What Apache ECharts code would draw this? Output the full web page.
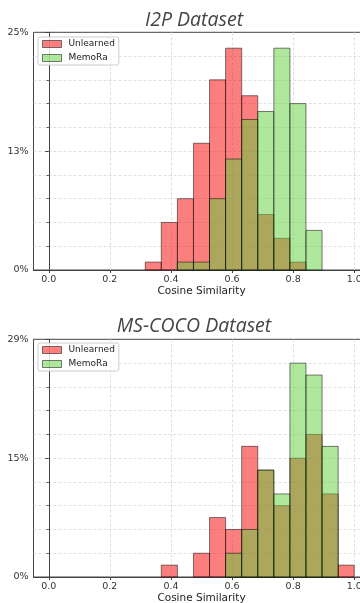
<!DOCTYPE html>
<html>
<head>
<meta charset="utf-8">
<script src="https://cdn.jsdelivr.net/npm/echarts@6/dist/echarts.min.js"></script>
<style>
html,body{margin:0;padding:0;background:#fff;}
#chart{width:360px;height:603px;}
</style>
</head>
<body>
<div id="chart"></div>
<script>
// Histogram bin edges (19 bins on [0, 1])
const binEdges = [0, 0.0526, 0.1053, 0.1579, 0.2105, 0.2632, 0.3158, 0.3684, 0.4211, 0.4737,
  0.5263, 0.5789, 0.6316, 0.6842, 0.7368, 0.7895, 0.8421, 0.8947, 0.9474, 1.0];
const xTicks = [0, 0.2, 0.4, 0.6, 0.8, 1.0];
const seriesNames = ['Unlearned', 'MemoRa'];
const chartTitles = ['I2P Dataset', 'MS-COCO Dataset'];
const yMax = [25, 29];

// Percent of samples per bin
const i2pUnlearned = [0, 0, 0, 0, 0, 0, 0.83, 5.0, 7.5, 13.33, 20.0, 23.33, 18.33, 5.83, 3.33, 0.83, 0, 0, 0];
const i2pMemoRa    = [0, 0, 0, 0, 0, 0, 0, 0, 0.83, 0.83, 7.5, 11.67, 15.83, 16.67, 23.33, 17.5, 4.17, 0, 0];
const cocoUnlearned = [0, 0, 0, 0, 0, 0, 0, 1.45, 0, 2.9, 7.25, 5.8, 15.94, 13.04, 8.7, 14.49, 17.39, 10.14, 1.45];
const cocoMemoRa    = [0, 0, 0, 0, 0, 0, 0, 0, 0, 0, 0, 2.9, 5.8, 13.04, 10.14, 26.09, 24.64, 15.94, 0];

const RED = 'rgba(250,0,0,0.5)';
const GREEN = 'rgba(95,208,60,0.5)';
const EDGE = 'rgba(0,0,0,0.5)';

function toData(vals) {
  return vals.map((v, i) => [binEdges[i], binEdges[i + 1], v]);
}
function makeRender(color) {
  return function (params, api) {
    const v = api.value(2);
    if (!v) return null;
    const p0 = api.coord([api.value(0), v]);
    const p1 = api.coord([api.value(1), 0]);
    return {
      type: 'rect',
      shape: { x: p0[0], y: p0[1], width: p1[0] - p0[0], height: p1[1] - p0[1] },
      style: { fill: color, stroke: EDGE, lineWidth: 1 }
    };
  };
}

const grids = [
  { left: 33.5, top: 32.3, width: 336, height: 237.7 },
  { left: 33.5, top: 339.3, width: 336, height: 237.7 }
];
const SPINE = '#444';
const GRIDC = '#d8d8d8';

const option = {
  animation: false,
  title: chartTitles.map((t, i) => ({
    text: t,
    left: 189,
    textAlign: 'center',
    top: i === 0 ? 5 : 311,
    textStyle: { fontFamily: 'Open Sans', fontStyle: 'italic', fontWeight: 'normal', fontSize: 19.5, color: '#444' }
  })),
  legend: [0, 1].map(i => ({
    orient: 'vertical',
    left: 38,
    top: i === 0 ? 37 : 343,
    padding: [2, 4, 2, 4],
    itemGap: 4,
    itemWidth: 19,
    itemHeight: 7,
    icon: 'rect',
    backgroundColor: 'rgba(255,255,255,0.8)',
    borderColor: '#ccc',
    borderWidth: 1,
    borderRadius: 2,
    selectedMode: false,
    textStyle: { fontFamily: 'DejaVu Sans', fontSize: 9, color: '#222', lineHeight: 10, padding: [0, 0, 0, 2] },
    data: [
      { name: seriesNames[0], itemStyle: { color: RED, borderColor: EDGE, borderWidth: 1 } },
      { name: seriesNames[1], itemStyle: { color: GREEN, borderColor: EDGE, borderWidth: 1 } }
    ]
  })),
  grid: grids.map(g => Object.assign({ show: true, borderColor: SPINE, borderWidth: 1, backgroundColor: 'transparent',
    containLabel: false, outerBoundsMode: 'none' }, g)),
  xAxis: [0, 1].map(i => ({
    type: 'value',
    gridIndex: i,
    min: -0.05,
    max: 1.05,
    name: 'Cosine Similarity',
    nameLocation: 'middle',
    nameGap: 15,
    nameTextStyle: { fontFamily: 'DejaVu Sans', fontSize: 10.5, color: '#222' },
    axisLine: { show: true, lineStyle: { color: SPINE, width: 1 } },
    axisTick: { show: true, length: 3, lineStyle: { color: SPINE }, customValues: xTicks },
    axisLabel: { customValues: xTicks, margin: 5, fontFamily: 'DejaVu Sans', fontSize: 9.5, color: '#333',
      formatter: v => v.toFixed(1) },
    splitLine: { show: true, lineStyle: { color: GRIDC, type: [3, 2], width: 0.8 } }
  })),
  yAxis: [0, 1].map(i => ({
    type: 'value',
    gridIndex: i,
    min: 0,
    max: yMax[i],
    interval: yMax[i] / 2,
    axisLine: { show: true, lineStyle: { color: SPINE, width: 1 } },
    axisTick: { show: true, length: 3.5, lineStyle: { color: SPINE } },
    minorTick: { show: true, splitNumber: 5, length: 2, lineStyle: { color: SPINE } },
    axisLabel: { margin: 5, fontFamily: 'DejaVu Sans', fontSize: 9.5, color: '#333',
      formatter: v => Math.round(v) + '%' },
    splitLine: { show: true, showMinLine: false, showMaxLine: false, lineStyle: { color: GRIDC, type: [3, 2], width: 0.8 } },
    minorSplitLine: { show: true, lineStyle: { color: GRIDC, type: [3, 2], width: 0.8 } }
  })),
  series: [
    { name: seriesNames[0], type: 'custom', xAxisIndex: 0, yAxisIndex: 0, renderItem: makeRender(RED),
      itemStyle: { color: RED }, encode: { x: [0, 1], y: 2 }, data: toData(i2pUnlearned) },
    { name: seriesNames[1], type: 'custom', xAxisIndex: 0, yAxisIndex: 0, renderItem: makeRender(GREEN),
      itemStyle: { color: GREEN }, encode: { x: [0, 1], y: 2 }, data: toData(i2pMemoRa) },
    { name: seriesNames[0], type: 'custom', xAxisIndex: 1, yAxisIndex: 1, renderItem: makeRender(RED),
      itemStyle: { color: RED }, encode: { x: [0, 1], y: 2 }, data: toData(cocoUnlearned) },
    { name: seriesNames[1], type: 'custom', xAxisIndex: 1, yAxisIndex: 1, renderItem: makeRender(GREEN),
      itemStyle: { color: GREEN }, encode: { x: [0, 1], y: 2 }, data: toData(cocoMemoRa) }
  ]
};

const chart = echarts.init(document.getElementById('chart'), null, { renderer: 'canvas' });
chart.setOption(option);
</script>
</body>
</html>
